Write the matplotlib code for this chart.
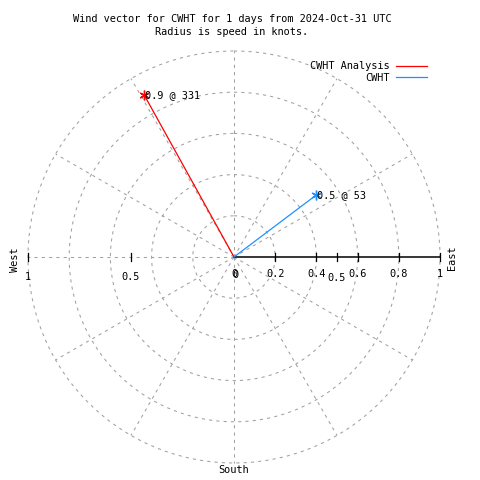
import numpy as np
import matplotlib
matplotlib.use('Agg')
import matplotlib.pyplot as plt

# ---------------- DATA ----------------
station = "CWHT"
series_names = ["CWHT Analysis", "CWHT"]
speeds = [0.9, 0.5]          # knots
directions = [331, 53]       # degrees (compass)
colors = ["#ff0000", "#1e90ff"]

grid_radii = [0.2, 0.4, 0.6, 0.8, 1.0]
spoke_angles = np.arange(0, 360, 30)
right_ticks = [0.2, 0.4, 0.5, 0.6, 0.8, 1.0]
right_labels = ["0.2", "0.4", "0.5", "0.6", "0.8", "1"]
left_ticks = [0.5, 1.0]
left_labels = ["0.5", "1"]

FONT = "DejaVu Sans Mono"
FS = 7.4
GRID = "#a0a0a0"

# ---------------- FIGURE ----------------
fig = plt.figure(figsize=(4.8, 4.8), dpi=100)
ax = fig.add_axes([0, 0, 1, 1])
R = 206.0
cx, cy = 234.0, 257.0
ax.set_xlim(-cx / R, (480 - cx) / R)
ax.set_ylim(-(480 - cy) / R, cy / R)
ax.axis("off")


def to_xy(r, bearing):
    t = np.deg2rad(bearing)
    return r * np.sin(t), r * np.cos(t)


# grid circles
th = np.linspace(0, 360, 721)
for r in grid_radii:
    x, y = to_xy(r, th)
    ax.plot(x, y, color=GRID, lw=0.75, ls=(0, (3, 4)), zorder=1)

# spokes
for a in spoke_angles:
    if a == 90:
        continue
    x, y = to_xy(np.array([0, 1.0]), a)
    ax.plot(x, y, color=GRID, lw=0.75, ls=(0, (3, 4)), zorder=1)

# east axis (solid)
ax.plot([0, 1], [0, 0], color="black", lw=1.1, zorder=2)
tk = 4 / R
for t, lab in zip(right_ticks, right_labels):
    ax.plot([t, t], [-tk, tk], color="black", lw=0.9, zorder=2)
    dy = -21 / R if t == 0.5 else -17 / R
    ax.text(t, dy, lab, ha="center", va="center", fontsize=FS, family=FONT)
for t, lab in zip(left_ticks, left_labels):
    ax.plot([-t, -t], [-tk, tk], color="black", lw=0.9, zorder=2)
    ax.text(-t, -20 / R, lab, ha="center", va="center", fontsize=FS, family=FONT)
ax.text(0, -17 / R, "0", ha="center", va="center", fontsize=FS, family=FONT)
ax.text(1 / R, -18 / R, "0", ha="center", va="center", fontsize=FS, family=FONT)

# compass labels
ax.text(-219 / R, -3 / R, "West", rotation=90, ha="center", va="center",
        fontsize=FS, family=FONT)
ax.text(218 / R, -1 / R, "East", rotation=90, ha="center", va="center",
        fontsize=FS, family=FONT)
ax.text(0, -213 / R, "South", ha="center", va="center", fontsize=FS, family=FONT)

# vectors
for name, s, d, c in zip(series_names, speeds, directions, colors):
    x, y = to_xy(s, d)
    ax.plot([0, x], [0, y], color=c, lw=0.9, label=name, zorder=3)
    ax.plot([x], [y], marker=(6, 2, 0), color=c, ms=7, mew=1.0, zorder=3)
    ax.text(x + 1 / R, y, f"{s:g} @ {d}", ha="left", va="center",
            fontsize=FS, family=FONT, zorder=4)

ax.legend(loc="upper right", bbox_to_anchor=(432 / 480, 1 - 56 / 480),
          frameon=False, markerfirst=False, handlelength=3.0,
          handletextpad=0.6, labelspacing=0.15, borderpad=0,
          prop={"family": FONT, "size": FS})

fig.text(232 / 480, 1 - 19 / 480,
         f"Wind vector for {station} for 1 days from 2024-Oct-31 UTC",
         ha="center", va="center", fontsize=FS, family=FONT)
fig.text(232 / 480, 1 - 32 / 480, "Radius is speed in knots.",
         ha="center", va="center", fontsize=FS, family=FONT)

fig.savefig("out.png", dpi=100)
